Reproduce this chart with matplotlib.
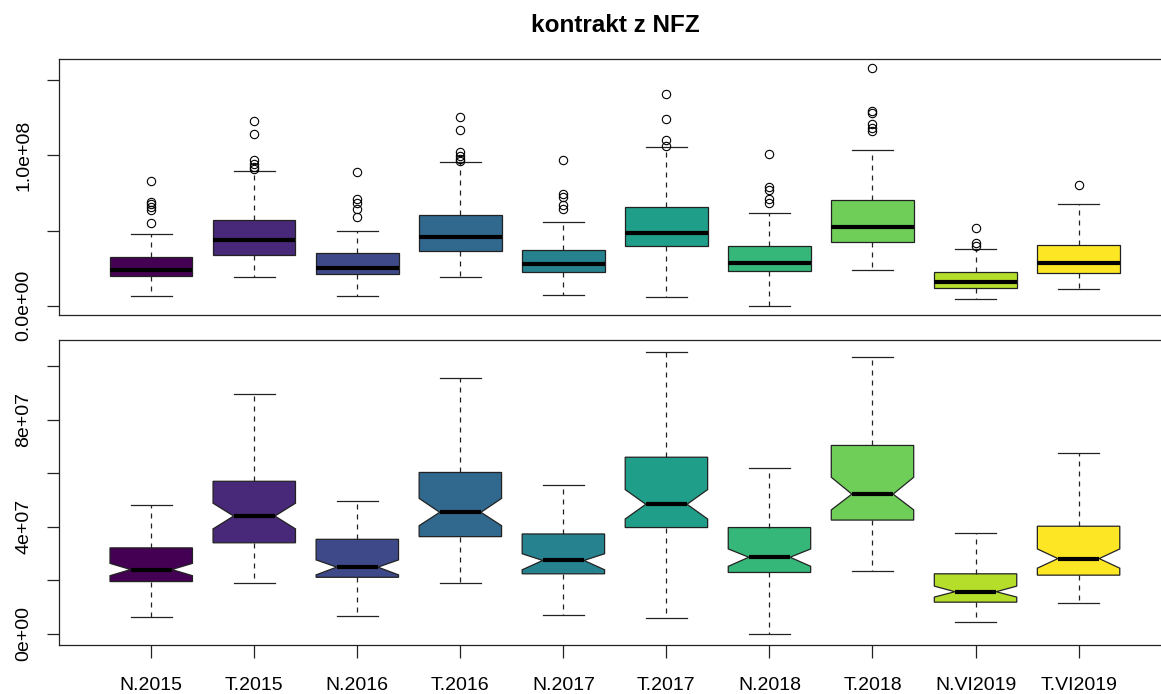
import matplotlib
matplotlib.use("Agg")
import matplotlib.pyplot as plt

# values, in millions
labels = ["N.2015", "T.2015", "N.2016", "T.2016", "N.2017",
          "T.2017", "N.2018", "T.2018", "N.VI2019", "T.VI2019"]
whislo = [6.2, 19.0, 6.6, 19.0, 7.1, 5.7, 0.0, 23.4, 4.2, 11.3]
q1 = [19.5, 34.0, 21.1, 36.3, 22.4, 39.7, 22.9, 42.5, 11.8, 21.9]
med = [24.0, 44.0, 24.9, 45.4, 27.4, 48.4, 28.6, 52.2, 15.7, 28.1]
q3 = [32.1, 57.0, 35.3, 60.3, 37.3, 66.0, 39.7, 70.4, 22.4, 40.2]
whishi = [48.0, 89.8, 49.8, 95.8, 55.5, 105.5, 61.8, 103.6, 37.8, 67.5]
cilo = [21.7, 39.2, 22.0, 40.4, 23.9, 42.9, 25.2, 46.3, 13.7, 24.5]
cihi = [26.3, 48.8, 27.6, 50.6, 29.9, 53.9, 31.7, 58.5, 17.8, 31.7]
outliers = [
    [55.3, 63.7, 65.7, 67.9, 69.0, 82.7],
    [91.1, 92.3, 94.0, 97.3, 114.4, 123.0],
    [58.8, 64.1, 68.6, 71.0, 88.9],
    [96.2, 97.8, 99.8, 102.0, 117.0, 125.4],
    [64.6, 66.8, 72.1, 74.6, 96.7],
    [106.4, 110.0, 124.6, 140.9],
    [68.4, 71.2, 76.8, 79.0, 100.7],
    [116.2, 118.4, 121.0, 128.1, 129.9, 158.0],
    [40.0, 42.0, 52.0],
    [80.3],
]

M = 1e6
stats = []
for i in range(len(labels)):
    stats.append(dict(
        label=labels[i], med=med[i] * M, q1=q1[i] * M, q3=q3[i] * M,
        whislo=whislo[i] * M, whishi=whishi[i] * M,
        cilo=cilo[i] * M, cihi=cihi[i] * M,
        fliers=[v * M for v in outliers[i]],
    ))

plt.rcParams["font.family"] = ["Liberation Sans", "DejaVu Sans"]
colors = plt.cm.viridis([i / 9 for i in range(10)])
edge = "#222222"

W, H = 1161, 694
fig = plt.figure(figsize=(W / 100, H / 100), dpi=100)
left, right = 58.5, 1171.3
ax1 = fig.add_axes([left / W, 1 - 315 / H, (right - left) / W, 256 / H])
ax2 = fig.add_axes([left / W, 1 - 645 / H, (right - left) / W, 304.7 / H])

positions = list(range(1, len(labels) + 1))


def draw(ax, notch, fliers):
    b = ax.bxp(stats, positions=positions, widths=0.8, patch_artist=True,
               shownotches=notch, showfliers=fliers,
               boxprops=dict(edgecolor=edge, linewidth=0.9),
               medianprops=dict(color="black", linewidth=3, solid_capstyle="butt"),
               whiskerprops=dict(color=edge, linewidth=0.9, linestyle=(0, (4, 4))),
               capprops=dict(color=edge, linewidth=0.9),
               flierprops=dict(marker="o", markerfacecolor="none",
                               markeredgecolor="black", markersize=6,
                               markeredgewidth=0.8))
    for patch, c in zip(b["boxes"], colors):
        patch.set_facecolor(c)
    ax.set_xlim(0.1, len(labels) + 0.9)
    for s in ax.spines.values():
        s.set_color(edge)
        s.set_linewidth(0.9)
    ax.tick_params(axis="y", length=9, width=0.9, color=edge, pad=10,
                   labelsize=14)


draw(ax1, False, True)
draw(ax2, True, False)

# y ranges like R: data range plus 4%
lo1 = min(whislo) * M
hi1 = max(max(o) for o in outliers) * M
r1 = hi1 - lo1
ax1.set_ylim(lo1 - 0.04 * r1, hi1 + 0.04 * r1)
lo2 = min(whislo) * M
hi2 = max(whishi) * M
r2 = hi2 - lo2
ax2.set_ylim(lo2 - 0.04 * r2, hi2 + 0.04 * r2)

ax1.set_yticks([0, 5e7, 1e8, 1.5e8])
ax1.set_yticklabels(["0.0e+00", "", "1.0e+08", ""], rotation=90, va="center")
ax1.tick_params(axis="x", bottom=False, labelbottom=False)

ax2.set_yticks([0, 2e7, 4e7, 6e7, 8e7, 1e8])
ax2.set_yticklabels(["0e+00", "", "4e+07", "", "8e+07", ""], rotation=90,
                    va="center")
ax2.set_xticks(positions)
ax2.set_xticklabels(labels)
ax2.tick_params(axis="x", length=9, width=0.9, color=edge, pad=14,
                labelsize=14)

fig.text(615 / W, 1 - 25 / H, "kontrakt z NFZ", ha="center", va="center",
         fontsize=17.5, fontweight="bold")

fig.savefig("out.png", dpi=100)
